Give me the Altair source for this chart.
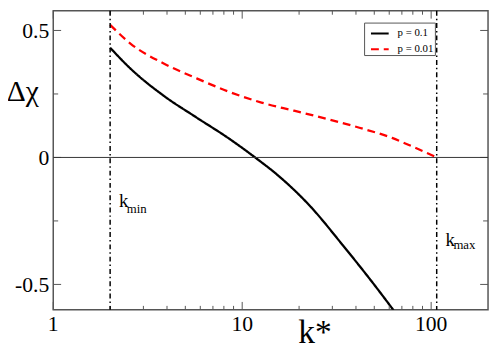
import altair as alt
import pandas as pd

# ---- data ----
k_black = [2.0, 2.57, 3.84, 5.71, 8.49, 11.7, 15.4, 22.9, 34.1, 50.8, 63.3]
d_black = [0.432, 0.349, 0.243, 0.158, 0.075, 0.0, -0.0695, -0.192, -0.346, -0.508, -0.602]

k_red = [2.0, 2.57, 3.84, 5.71, 8.49, 12.65, 18.8, 28.0, 41.7, 62.1, 75.7, 107.0]
d_red = [0.522, 0.4475, 0.370, 0.312, 0.259, 0.216, 0.184, 0.152, 0.117, 0.077, 0.050, 0.0]

series_names = ["p = 0.1", "p = 0.01"]
series_colors = ["black", "red"]

k_limits = [2.0, 107.0]

x_major = [1, 10, 100]
x_major_labels = ["1", "10", "100"]
x_minor = [2, 3, 4, 5, 6, 7, 8, 9, 20, 30, 40, 50, 60, 70, 80, 90]
y_major = [-0.5, 0.0, 0.5]
y_major_labels = ["-0.5", "0", "0.5"]
y_minor = [-0.25, 0.25]

x_title = "k*"
y_title = "Δχ"

W, H = 442, 304
SERIF = "'Liberation Serif', 'Times New Roman', Times, serif"
GRAY = "#555555"

xscale = alt.Scale(type="log", domain=[1, 200], nice=False)
yscale = alt.Scale(domain=[-0.6, 0.5775], nice=False, zero=False)


def X(field="k"):
    return alt.X(f"{field}:Q", scale=xscale, axis=None)


def Y(field="d"):
    return alt.Y(f"{field}:Q", scale=yscale, axis=None)


curves = pd.DataFrame({
    "k": k_black + k_red,
    "d": d_black + d_red,
    "series": [series_names[0]] * len(k_black) + [series_names[1]] * len(k_red),
    "order": list(range(len(k_black))) + list(range(len(k_red))),
})

legend = alt.Legend(
    title=None, orient="none", legendX=316, legendY=12,
    strokeColor=GRAY, fillColor="white", padding=1, symbolOffset=5,
    labelFont=SERIF, labelFontSize=11, labelColor="black",
    symbolType="stroke", symbolSize=324, symbolStrokeWidth=2,
    rowPadding=1, labelOffset=8, cornerRadius=0,
)

lines = alt.Chart(curves).mark_line(strokeWidth=2.3, clip=True, interpolate="monotone").encode(
    x=X(), y=Y(),
    color=alt.Color("series:N", scale=alt.Scale(domain=series_names, range=series_colors), legend=legend),
    strokeDash=alt.StrokeDash("series:N", scale=alt.Scale(domain=series_names, range=[[1, 0], [8, 5]]), legend=legend),
    order="order:Q",
)

# ticks (inward, mirrored)
xmaj = pd.DataFrame({"k": x_major, "label": x_major_labels})
xmin = pd.DataFrame({"k": x_minor})
ymaj = pd.DataFrame({"d": y_major, "label": y_major_labels})
ymin = pd.DataFrame({"d": y_minor})


def xticks(df, size):
    b = alt.Chart(df).mark_rule(color=GRAY, strokeWidth=1)
    bottom = b.encode(x=X(), y=alt.value(H), y2=alt.value(H - size))
    top = b.encode(x=X(), y=alt.value(0), y2=alt.value(size))
    return [bottom, top]


def yticks(df, size):
    b = alt.Chart(df).mark_rule(color=GRAY, strokeWidth=1)
    left = b.encode(y=Y(), x=alt.value(0), x2=alt.value(size))
    right = b.encode(y=Y(), x=alt.value(W), x2=alt.value(W - size))
    return [left, right]


tick_layers = xticks(xmaj, 8) + xticks(xmin, 4) + yticks(ymaj, 8) + yticks(ymin, 5)

# tick labels
xlab = alt.Chart(xmaj).mark_text(font=SERIF, fontSize=22, align="center", baseline="alphabetic", color="black").encode(
    x=X(), y=alt.value(H + 22), text="label:N"
)
ylab = alt.Chart(ymaj).mark_text(font=SERIF, fontSize=22, align="right", baseline="middle", dy=1, color="black").encode(
    y=Y(), x=alt.value(-4), text="label:N"
)

# axis titles
xt = alt.Chart(pd.DataFrame({"t": [x_title]})).mark_text(font=SERIF, fontSize=34, align="center", baseline="alphabetic", color="black").encode(
    x=alt.value(266), y=alt.value(338), text="t:N"
)
yt = alt.Chart(pd.DataFrame({"t": [y_title]})).mark_text(font=SERIF, fontSize=30, align="center", baseline="alphabetic", color="black").encode(
    x=alt.value(-31), y=alt.value(92), text="t:N"
)

zero = alt.Chart(pd.DataFrame({"d": [0.0]})).mark_rule(color="#333333", strokeWidth=1).encode(y=Y())

vlines = alt.Chart(pd.DataFrame({"k": k_limits})).mark_rule(
    color="black", strokeWidth=1.5, strokeDash=[5, 3, 1.5, 3]
).encode(x=X())

ann = pd.DataFrame({
    "k": [k_limits[0], k_limits[1]],
    "d": [-0.197, -0.347],
    "main": ["k", "k"],
    "sub": ["min", "max"],
})
ann_k = alt.Chart(ann).mark_text(font=SERIF, fontSize=19, align="left", baseline="alphabetic", dx=9, color="black").encode(
    x=X(), y=Y(), text="main:N"
)
ann_min = alt.Chart(ann.iloc[[0]]).mark_text(font=SERIF, fontSize=13, align="left", baseline="alphabetic", dx=17, dy=6, color="black").encode(
    x=X(), y=Y(), text="sub:N"
)
ann_max = alt.Chart(ann.iloc[[1]]).mark_text(font=SERIF, fontSize=13, align="left", baseline="alphabetic", dx=17, dy=3, color="black").encode(
    x=X(), y=Y(), text="sub:N"
)

chart = alt.layer(
    lines, *tick_layers, zero, vlines, ann_k, ann_min, ann_max, xlab, ylab, xt, yt
).properties(
    width=W, height=H,
    background="white",
    autosize=alt.AutoSizeParams(type="none"),
    padding={"left": 46, "top": 0, "right": 2, "bottom": 37},
).configure_view(stroke=GRAY, strokeWidth=1.5)

chart.save("out.html", embed_options={"renderer": "svg", "actions": False})
